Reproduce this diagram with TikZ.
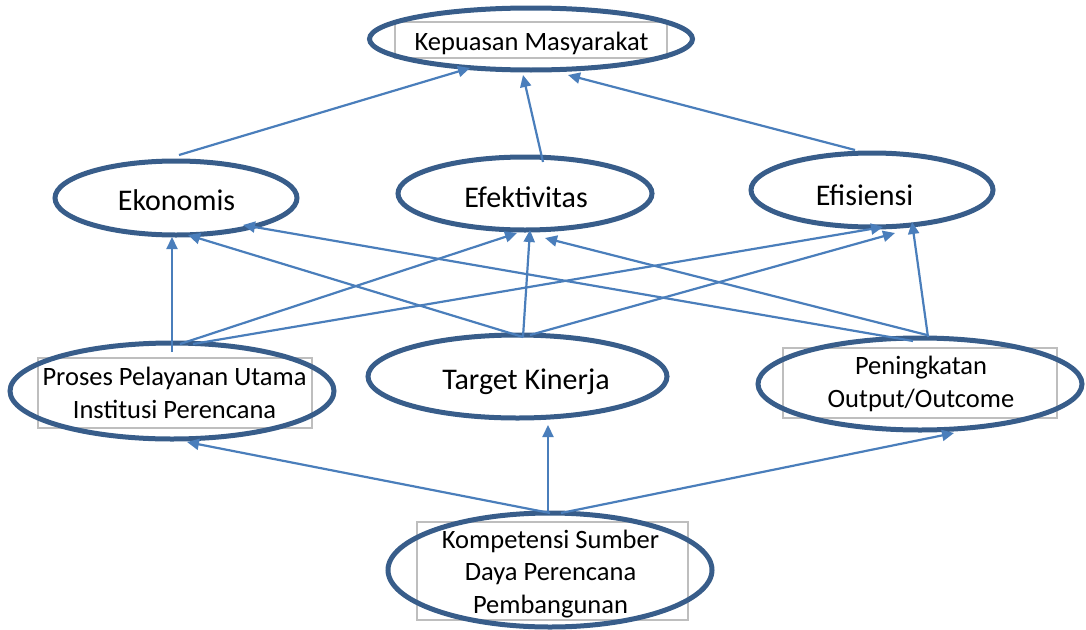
\documentclass[tikz,border=0pt]{standalone}
\usepackage{fontspec}
\setmainfont{Carlito}
\usetikzlibrary{shapes.geometric,arrows.meta,calc}
\definecolor{ellline}{RGB}{56,93,138}
\definecolor{arrline}{RGB}{74,126,187}
\definecolor{boxline}{RGB}{190,190,190}
\tikzset{
  ell/.style={ellipse, draw=ellline, line width=5pt, inner sep=0pt, outer sep=0pt},
  rbox/.style={rectangle, draw=boxline, line width=1.5pt, inner sep=0pt},
  lbl/.style={anchor=base, align=center, inner sep=0pt, font=\fontsize{26.5}{32.5}\selectfont},
  blbl/.style={anchor=base, align=center, inner sep=0pt, font=\fontsize{30}{36}\selectfont},
  arr/.style={draw=arrline, line width=2.2pt, -{Triangle[length=12pt,width=11pt]}}
}
\begin{document}
\begin{tikzpicture}[x=1pt,y=-1pt]
\useasboundingbox (0,0) rectangle (1086,629);
% grey text boxes
\node[rbox, minimum width=272pt, minimum height=36pt] (rkep) at (531,40) {};
\node[rbox, minimum width=274pt, minimum height=70pt] (rpro) at (175,393) {};
\node[rbox, minimum width=274pt, minimum height=70pt] (rpen) at (920,383) {};
\node[rbox, minimum width=271pt, minimum height=98pt] (rkom) at (552.5,571) {};
% ellipses
\node[ell, minimum width=323pt, minimum height=62pt] (kep) at (531,39) {};
\node[ell, minimum width=242pt, minimum height=74pt] (eko) at (176,198) {};
\node[ell, minimum width=254pt, minimum height=73pt] (efk) at (525,193.5) {};
\node[ell, minimum width=242pt, minimum height=74pt] (efs) at (872,190) {};
\node[ell, minimum width=324pt, minimum height=96pt] (pro) at (172,391) {};
\node[ell, minimum width=299pt, minimum height=83pt] (tgt) at (517.5,376.5) {};
\node[ell, minimum width=324pt, minimum height=92pt] (pen) at (920,384) {};
\node[ell, minimum width=324pt, minimum height=114pt] (kom) at (550,570) {};
% labels
\node[lbl] (tkep) at (531.5,50) {Kepuasan Masyarakat};
\node[blbl] (teko) at (176.5,210) {Ekonomis};
\node[blbl] (tefk) at (526,207) {Efektivitas};
\node[blbl] (tefs) at (864.5,205) {Efisiensi};
\node[lbl] (tpro) at (174.5,418) {Proses Pelayanan Utama\\Institusi Perencana};
\node[blbl] (ttgt) at (526,389) {Target Kinerja};
\node[lbl] (tpen) at (921,407) {Peningkatan\\Output/Outcome};
\node[lbl] (tkom) at (550.5,613) {Kompetensi Sumber\\Daya Perencana\\Pembangunan};
% connectors
\draw[arr] ($(eko)+(3,-43)$) -- ($(kep)+(-61,29)$);
\draw[arr] ($(efk)+(18,-31.5)$) -- ($(kep)+(-8,36)$);
\draw[arr] ($(efs)+(-17,-40)$) -- ($(kep)+(37,36)$);
\draw[arr] ($(pro)+(0,-39)$) -- ($(eko)+(-4,39)$);
\draw[arr] ($(pro)+(8,-47)$) -- ($(efk)+(-8,39.5)$);
\draw[arr] ($(pro)+(21,-47)$) -- ($(efs)+(11,37)$);
\draw[arr] ($(tgt)+(5.5,-39.5)$) -- ($(eko)+(12,37)$);
\draw[arr] ($(tgt)+(5.5,-39.5)$) -- ($(efk)+(5,36.5)$);
\draw[arr] ($(tgt)+(12.5,-41.5)$) -- ($(efs)+(23,43)$);
\draw[arr] ($(pen)+(-7,-43)$) -- ($(eko)+(67,27)$);
\draw[arr] ($(pen)+(7,-49)$) -- ($(efk)+(20,44.5)$);
\draw[arr] ($(pen)+(8,-47)$) -- ($(efs)+(40,32)$);
\draw[arr] ($(kom)+(0,-57)$) -- ($(pro)+(15,51)$);
\draw[arr] ($(kom)+(-2,-57)$) -- ($(tgt)+(30.5,48.5)$);
\draw[arr] ($(kom)+(11,-57)$) -- ($(pen)+(34,49)$);
\end{tikzpicture}
\end{document}
